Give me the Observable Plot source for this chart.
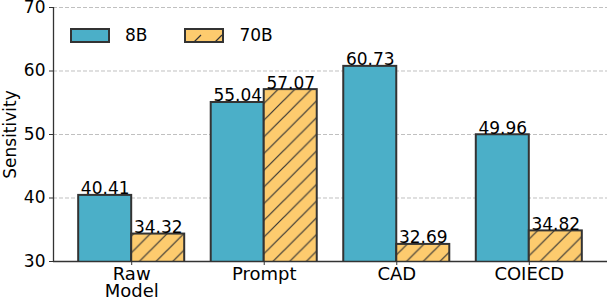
<!DOCTYPE html>
<html>
<head>
<meta charset="utf-8">
<script src="https://cdn.jsdelivr.net/npm/d3@7"></script>
<script src="https://cdn.jsdelivr.net/npm/@observablehq/plot@0.6"></script>
<style>
  body { margin: 0; background: white; }
  #wrap { position: relative; width: 608px; height: 306px; font-family: "DejaVu Sans", sans-serif; }
  #wrap svg g[aria-label="x-axis tick label"], #wrap svg g[aria-label="x-axis tick label"] text { font-size: 18px !important; }
  #wrap svg g[aria-label="y-axis tick label"], #wrap svg g[aria-label="y-axis tick label"] text { font-size: 17px !important; }
  #wrap svg g[aria-label="y-axis label"], #wrap svg g[aria-label="y-axis label"] text { font-size: 17px !important; }
  .legend { position: absolute; top: 25px; left: 70px; display: flex; align-items: center; font-size: 17px; }
  .legend .item { display: flex; align-items: center; margin-right: 37px; }
  .legend svg { display: block; margin-right: 15px; }
</style>
</head>
<body>
<div id="wrap"></div>
<script>
const categories = ["Raw\nModel", "Prompt", "CAD", "COIECD"];
const seriesNames = ["8B", "70B"];
const values8B = [40.41, 55.04, 60.73, 49.96];
const values70B = [34.32, 57.07, 32.69, 34.82];
const yTicks = [30, 40, 50, 60, 70];

const colors = {"8B": "#4bafc8", "70B": "#fdcb6e"};
const edge = "#333333";
const barWidth = 0.4;
const xDomain = [-0.59, 3.59];

const data = categories.flatMap((c, i) => [
  {i, s: "8B", v: values8B[i]},
  {i, s: "70B", v: values70B[i]}
]);
const center = d => d.i + (seriesNames.indexOf(d.s) - 0.5) * barWidth;
const x1 = d => center(d) - barWidth / 2;
const x2 = d => center(d) + barWidth / 2;
const d8 = data.filter(d => d.s === "8B");
const d70 = data.filter(d => d.s === "70B");

const chart = Plot.plot({
  width: 608,
  height: 306,
  marginLeft: 53,
  marginRight: 1,
  marginTop: 7,
  marginBottom: 45,
  style: {fontFamily: "DejaVu Sans", fontSize: "17px", color: "#000", background: "white", overflow: "visible"},
  x: {type: "linear", domain: xDomain},
  y: {domain: [yTicks[0], yTicks[yTicks.length - 1]]},
  marks: [
    Plot.ruleY(yTicks.slice(1), {stroke: "#b0b0b0", strokeOpacity: 0.8, strokeDasharray: "4,2", strokeWidth: 1}),
    Plot.rectY(d8, {x1, x2, y: "v", fill: colors["8B"], stroke: edge, strokeWidth: 2, clip: true}),
    Plot.rectY(d70, {x1, x2, y: "v", fill: colors["70B"], clip: true}),
    Plot.rectY(d70, {x1, x2, y: "v", fill: "url(#hatch)", stroke: edge, strokeWidth: 2, clip: true}),
    Plot.text(data, {x: center, y: "v", text: d => d.v.toFixed(2), lineAnchor: "bottom", dy: -1, fill: "#000", fontSize: 17}),
    Plot.ruleX([xDomain[0]], {stroke: edge, strokeWidth: 1.3}),
    Plot.ruleY([yTicks[0]], {stroke: edge, strokeWidth: 1.3}),
    Plot.axisY({ticks: yTicks, tickSize: 4, tickPadding: 4, stroke: edge, fill: "#000",
      label: "Sensitivity", labelAnchor: "center", labelArrow: "none", labelOffset: 50}),
    Plot.axisX({ticks: [0, 1, 2, 3], tickFormat: i => categories[i], tickSize: 4, tickPadding: 3,
      stroke: edge, fill: "#000", label: null, lineHeight: 0.92})
  ]
});

d3.select(chart).insert("defs", ":first-child").html(`
  <pattern id="hatch" patternUnits="userSpaceOnUse" width="16.7" height="16.7">
    <path d="M0,16.7 L16.7,0 M-4,4 L4,-4 M12.7,20.7 L20.7,12.7" stroke="${edge}" stroke-width="1.2"/>
  </pattern>`);

const wrap = document.getElementById("wrap");
wrap.appendChild(chart);

const legend = document.createElement("div");
legend.className = "legend";
seriesNames.forEach((s, k) => {
  const item = document.createElement("div");
  item.className = "item";
  const hatch = k === 1
    ? `<path d="M10,14 L17,7 M31,14 L38,7" stroke="${edge}" stroke-width="1.2" fill="none"/>`
    : "";
  item.innerHTML = `<svg width="40" height="15"><rect x="1" y="1" width="38" height="13" fill="${colors[s]}" stroke="${edge}" stroke-width="2"/>${hatch}</svg><span>${s}</span>`;
  legend.appendChild(item);
});
wrap.appendChild(legend);
</script>
</body>
</html>
